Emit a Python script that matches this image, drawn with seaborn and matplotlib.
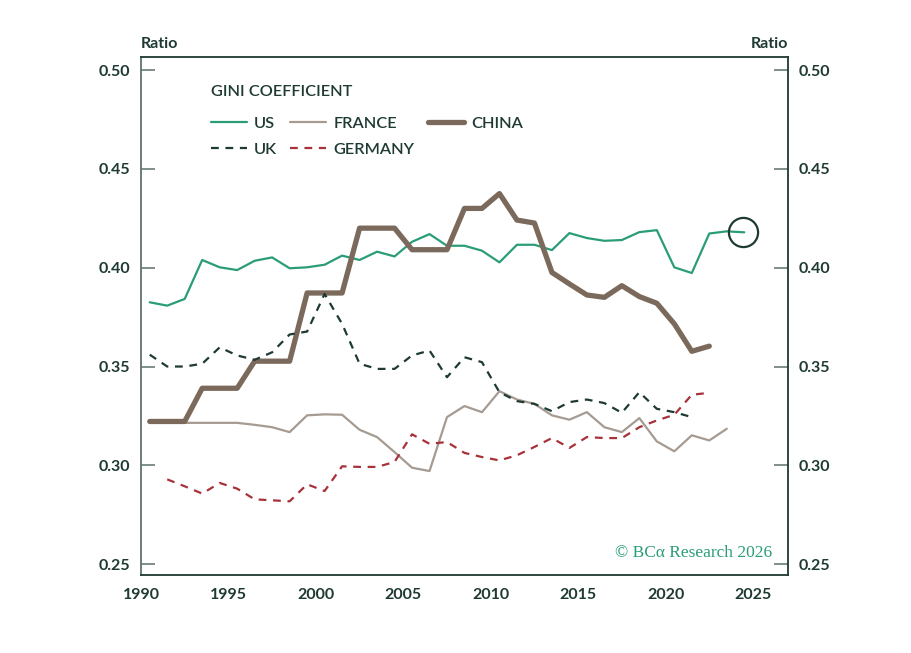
import seaborn as sns
import matplotlib.pyplot as plt
import pandas as pd

# GINI coefficient, annual
us_years = list(range(1990, 2025))
us = [0.3825, 0.3808, 0.3842, 0.4039, 0.4002, 0.3988, 0.4035, 0.4052, 0.3997, 0.4002,
      0.4015, 0.4061, 0.4039, 0.4081, 0.4057, 0.4131, 0.4170, 0.4111, 0.4111, 0.4086,
      0.4027, 0.4116, 0.4116, 0.4089, 0.4175, 0.4150, 0.4136, 0.4140, 0.4180, 0.4190,
      0.4002, 0.3973, 0.4173, 0.4184, 0.4179]

france_years = list(range(1990, 2024))
france = [0.3215, 0.3215, 0.3215, 0.3215, 0.3215, 0.3215, 0.3205, 0.3193, 0.3168, 0.3253,
          0.3258, 0.3256, 0.3180, 0.3143, 0.3067, 0.2988, 0.2971, 0.3244, 0.3300, 0.3269,
          0.3375, 0.3333, 0.3311, 0.3253, 0.3231, 0.3269, 0.3193, 0.3168, 0.3239, 0.3121,
          0.3071, 0.3152, 0.3126, 0.3185]

china_years = list(range(1990, 2023))
china = [0.3222, 0.3222, 0.3222, 0.3390, 0.3390, 0.3390, 0.3527, 0.3527, 0.3527, 0.3872,
         0.3872, 0.3872, 0.4200, 0.4200, 0.4200, 0.4091, 0.4091, 0.4091, 0.4300, 0.4300,
         0.4375, 0.4241, 0.4226, 0.3976, 0.3918, 0.3862, 0.3850, 0.3909, 0.3854, 0.3820,
         0.3716, 0.3577, 0.3603]

uk_years = list(range(1990, 2022))
uk = [0.3560, 0.3500, 0.3500, 0.3514, 0.3597, 0.3556, 0.3534, 0.3572, 0.3662, 0.3677,
      0.3867, 0.3716, 0.3514, 0.3488, 0.3488, 0.3556, 0.3581, 0.3446, 0.3547, 0.3522,
      0.3370, 0.3325, 0.3311, 0.3274, 0.3320, 0.3333, 0.3315, 0.3266, 0.3370, 0.3286,
      0.3269, 0.3244]

germany_years = list(range(1991, 2023))
germany = [0.2929, 0.2894, 0.2857, 0.2911, 0.2882, 0.2828, 0.2823, 0.2818, 0.2904, 0.2870,
           0.2995, 0.2992, 0.2992, 0.3017, 0.3157, 0.3109, 0.3118, 0.3063, 0.3042, 0.3025,
           0.3051, 0.3093, 0.3138, 0.3088, 0.3143, 0.3138, 0.3138, 0.3193, 0.3227, 0.3256,
           0.3357, 0.3367]

x_ticks = [1990, 1995, 2000, 2005, 2010, 2015, 2020, 2025]
y_ticks = [0.25, 0.30, 0.35, 0.40, 0.45, 0.50]

dark = "#1e3a33"
green = "#2a9d78"

sns.set_theme(style="white")
plt.rcParams["font.family"] = ["Lato", "DejaVu Sans"]

fig = plt.figure(figsize=(9.12, 6.53), dpi=100)
ax = fig.add_axes([0.1546, 0.1194, 0.8640 - 0.1546, 0.9127 - 0.1194])

series = [
    ("US", us_years, us, green, 1.6, "-"),
    ("FRANCE", france_years, france, "#a59b92", 1.6, "-"),
    ("CHINA", china_years, china, "#7b6a5c", 3.8, "-"),
    ("UK", uk_years, uk, dark, 1.6, (0, (3.5, 3))),
    ("GERMANY", germany_years, germany, "#a8323a", 1.6, (0, (3.5, 3))),
]
handles = {}
for name, yrs, vals, col, lw, ls in series:
    df = pd.DataFrame({"year": yrs, "gini": vals})
    sns.lineplot(x=df["year"] + 0.5, y=df["gini"], ax=ax, color=col, linewidth=lw, linestyle=ls)
    handles[name] = ax.lines[-1]

# circle on latest US reading
ax.plot(us_years[-1] + 0.4, us[-1], marker="o", markersize=21, markerfacecolor="none",
        markeredgecolor=dark, markeredgewidth=1.6, linestyle="none")

order = ["US", "UK", "FRANCE", "GERMANY", "CHINA"]
leg = ax.legend([handles[k] for k in order], order, ncol=3, title="GINI COEFFICIENT",
                loc="upper left", bbox_to_anchor=(0.085, 0.975), frameon=False,
                handlelength=2.2, handletextpad=0.45, columnspacing=0.8,
                labelspacing=0.7, prop={"size": 11.8, "weight": "semibold"},
                title_fontproperties={"size": 11.8, "weight": "semibold"})
leg._legend_box.align = "left"
leg._legend_box.sep = 13
leg.get_title().set_color(dark)
for t in leg.get_texts():
    t.set_color(dark)

ax.set_xlim(1990, 2027)
ax.set_ylim(0.2445, 0.5066)
ax.set_xticks(x_ticks)
ax.set_yticks(y_ticks)
ax.set_yticklabels([f"{v:.2f}" for v in y_ticks])
ax.set_xlabel("")
ax.set_ylabel("")

ax.tick_params(axis="x", direction="in", length=10, width=1.6, color=dark,
               labelsize=11.5, labelcolor=dark, pad=9)
ax.tick_params(axis="y", direction="in", length=10, width=1.2, color="#6b7c77",
               labelsize=11.5, labelcolor=dark, left=True, right=True,
               labelleft=True, labelright=True, pad=8)
for lab in ax.get_xticklabels() + ax.get_yticklabels():
    lab.set_fontweight("bold")
for tl in ax.yaxis.get_major_ticks():
    tl.label2.set_fontweight("bold")

for side in ["left", "right", "top", "bottom"]:
    ax.spines[side].set_visible(True)
    ax.spines[side].set_linewidth(1.3)
    ax.spines[side].set_color(dark)
ax.spines["left"].set_color("#5f736d")

fig.text(0.1546, 0.922, "Ratio", ha="left", va="bottom", fontsize=11.5,
         fontweight="bold", color=dark)
fig.text(0.8640, 0.922, "Ratio", ha="right", va="bottom", fontsize=11.5,
         fontweight="bold", color=dark)
ax.text(0.975, 0.028, "© BCα Research 2026", transform=ax.transAxes, ha="right",
        va="bottom", fontsize=12.5, color=green, family=["Liberation Serif", "DejaVu Serif"])

fig.savefig("out.png", dpi=100)
